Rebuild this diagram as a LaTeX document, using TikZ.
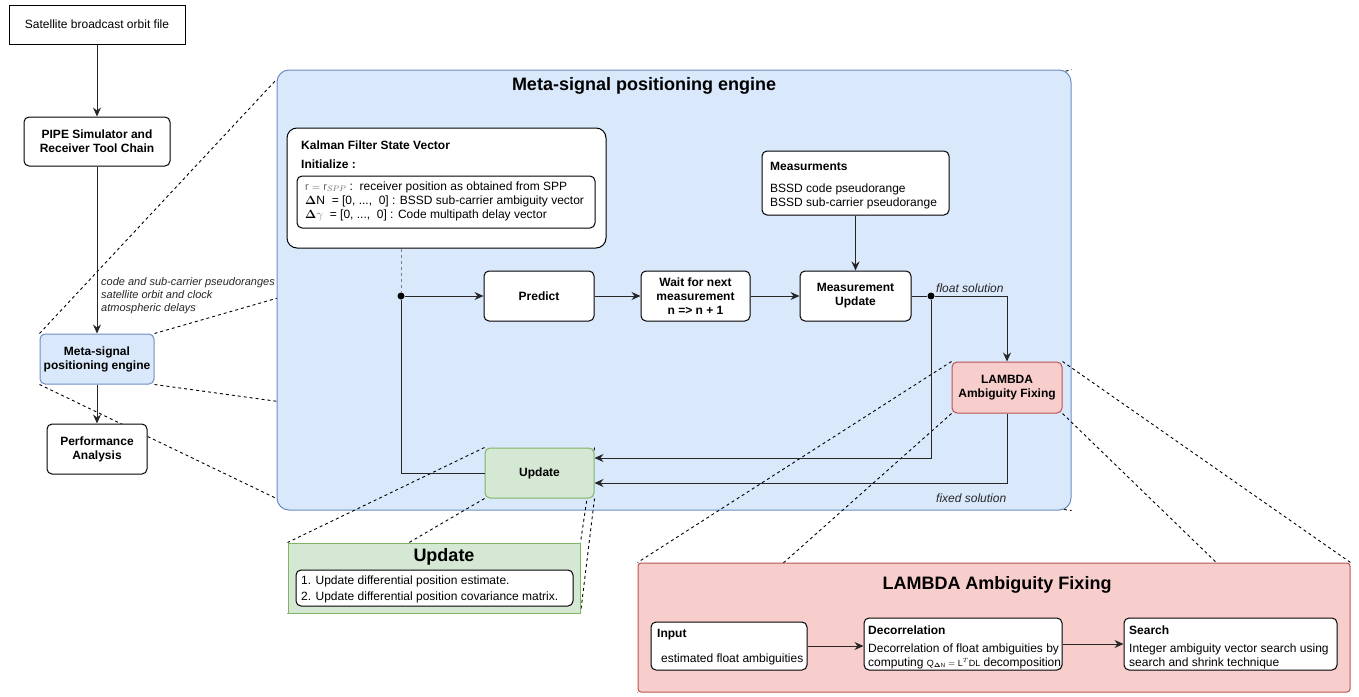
\documentclass[tikz,border=0pt]{standalone}
\usepackage{fontspec}
\setmainfont{Liberation Sans}
\usepackage{amsmath}
\usepackage{amssymb}
\usepackage{bm}
\usepackage{tikz}
\usetikzlibrary{positioning,arrows.meta}
\usepackage{xcolor}
\definecolor{engineFill}{HTML}{DAE8FC}
\definecolor{engineLine}{HTML}{6C8EBF}
\definecolor{updateFill}{HTML}{D5E8D4}
\definecolor{updateLine}{HTML}{82B366}
\definecolor{lambdaFill}{HTML}{F8CECC}
\definecolor{lambdaLine}{HTML}{B85450}
\pgfdeclarelayer{hidden}
\pgfdeclarelayer{back}
\pgfdeclarelayer{zoom}
\pgfsetlayers{hidden,back,zoom,main}

\begin{document}
\begin{tikzpicture}[x=1pt, y=-1pt,
	txt/.style={font=\fontsize{12}{14}\selectfont, inner sep=0pt},
	bold/.style={font=\bfseries\fontsize{12}{14}\selectfont, inner sep=0pt},
	title/.style={font=\bfseries\fontsize{18}{20}\selectfont, inner sep=0pt},
	note/.style={font=\itshape\fontsize{11}{13}\selectfont, text=black!85, inner sep=0pt},
	plainbox/.style={draw, line width=1pt, fill=white, font=\fontsize{12}{14}\selectfont},
	box/.style={draw, line width=1pt, rounded corners=5pt, fill=white, align=center, font=\bfseries\fontsize{12}{14}\selectfont},
	link/.style={line width=1pt, draw=black!85},
	arr/.style={link, -{Stealth[length=9pt, width=8pt, inset=3pt]}},
	zoomline/.style={line width=0.9pt, dash pattern=on 3pt off 3pt},
	dot/.style={circle, fill=black, inner sep=0pt, minimum size=7pt}]
\useasboundingbox (0,0) rectangle (1359,696);

\node[plainbox, minimum width=176pt, minimum height=39pt] (orbit) at (97,24.5) {Satellite broadcast orbit file};
\node[box, minimum width=146pt, minimum height=49pt] (pipe) at (97,141.5) {PIPE Simulator and\\Receiver Tool Chain};
\node[box, draw=engineLine, fill=engineFill, minimum width=114pt, minimum height=50pt] (metasmall) at (97,359) {Meta-signal\\positioning engine};
\node[box, minimum width=100pt, minimum height=50pt] (perf) at (97,449) {Performance\\Analysis};
\draw[arr] (orbit) -- (pipe);
\draw[arr] (pipe) -- (metasmall);
\draw[arr] (metasmall) -- (perf);
\node[note, anchor=base west] (input1) at (101,285) {code and sub-carrier pseudoranges};
\node[note, anchor=base west] (input2) at (101,298) {satellite orbit and clock};
\node[note, anchor=base west] (input3) at (101,311) {atmospheric delays};

\begin{pgfonlayer}{back}
	\node[draw=engineLine, fill=engineFill, line width=1pt, rounded corners=12pt, minimum width=794pt, minimum height=440pt] (engine) at (674,290) {};
\end{pgfonlayer}
\begin{pgfonlayer}{hidden}
	\draw[zoomline] (metasmall.north west) -- ([yshift=-10pt]engine.north west);
	\draw[zoomline] (metasmall.north east) -- (engine.north east);
	\draw[zoomline] (metasmall.south west) -- ([yshift=12pt]engine.south west);
	\draw[zoomline] (metasmall.south east) -- (engine.south east);
\end{pgfonlayer}
\node[title] (enginetitle) at (644,86) {Meta-signal positioning engine};

\node[box, rounded corners=10pt, minimum width=319pt, minimum height=120pt] (kalman) at (446.5,188) {};
\node[bold, anchor=base west] (kalmantitle) at (301,149) {Kalman Filter State Vector};
\node[bold, anchor=base west] (kalmaninit) at (301,168) {Initialize :};
\node[box, minimum width=298pt, minimum height=52pt] (kinit) at (446,202) {};
\node[txt, anchor=base west] (kline1) at (305,190) {{\fontsize{11}{12}\selectfont\color{black!60}$\mathrm{r}=\mathrm{r}_{SPP}$}\ :\ \ receiver position as obtained from SPP};
\node[txt, anchor=base west] (kline2) at (305,204) {$\bm{\Delta}\mathrm{N}$\ \ = [0, ...,\ \ 0] : BSSD sub-carrier ambiguity vector};
\node[txt, anchor=base west] (kline3) at (305,218) {$\bm{\Delta}{\color{black!55}\gamma}$\ \ = [0, ...,\ \ 0] : Code multipath delay vector};

\node[box, minimum width=187pt, minimum height=64pt] (meas) at (855.5,183) {};
\node[bold, anchor=base west] (meastitle) at (770,170) {Measurments};
\node[txt, anchor=base west] (measline1) at (770,192) {BSSD code pseudorange};
\node[txt, anchor=base west] (measline2) at (770,206) {BSSD sub-carrier pseudorange};

\node[dot] (jdot) at (401,296) {};
\node[box, minimum width=110pt, minimum height=50pt] (predict) at (539,296) {Predict};
\node[box, minimum width=109pt, minimum height=50pt] (wait) at (695.5,296) {Wait for next\\measurement\\n => n + 1};
\node[box, minimum width=111pt, minimum height=50pt] (measupd) at (855.5,296) {Measurement\\Update};
\node[dot] (fdot) at (931,296) {};
\node[box, draw=lambdaLine, fill=lambdaFill, minimum width=110pt, minimum height=51pt] (lambda) at (1007,387.5) {LAMBDA\\Ambiguity Fixing};
\node[box, draw=updateLine, fill=updateFill, minimum width=109pt, minimum height=50pt] (update) at (539.5,473) {Update};

\draw[link, dashed, draw=black!50] (kalman.south -| jdot) -- (jdot);
\draw[arr] (jdot) -- (predict);
\draw[arr] (predict) -- (wait);
\draw[arr] (wait) -- (measupd);
\draw[arr] (meas) -- (measupd);
\draw[link] (measupd) -- (fdot);
\draw[arr] (fdot) -| (lambda);
\draw[arr] (fdot) |- ([yshift=15pt]update.east);
\draw[arr] (lambda) |- ([yshift=-10pt]update.east);
\draw[link] (update) -| (jdot);
\node[note, font=\itshape\fontsize{12}{14}\selectfont, anchor=base west] (floatlbl) at (936,292) {float solution};
\node[note, font=\itshape\fontsize{12}{14}\selectfont, anchor=base west] (fixedlbl) at (936,502) {fixed solution};

\node[draw=updateLine, fill=updateFill, line width=1pt, minimum width=292pt, minimum height=70pt] (updatedetail) at (434,578) {};
\node[title] (updatetitle) at (444,557) {Update};
\node[box, minimum width=277pt, minimum height=36pt] (updatesteps) at (434.5,588) {};
\node[txt, anchor=base west] (step1) at (301,584) {1. Update differential position estimate.};
\node[txt, anchor=base west] (step2) at (301,600) {2. Update differential position covariance matrix.};

\node[draw=lambdaLine, fill=lambdaFill, line width=1pt, rounded corners=3pt, minimum width=712pt, minimum height=129pt] (lambdadetail) at (994,627.5) {};
\node[title] (lambdatitle) at (997,585) {LAMBDA Ambiguity Fixing};
\node[box, minimum width=156pt, minimum height=48pt] (input) at (729,646) {};
\node[bold, anchor=base west] (inputtitle) at (657,637) {Input};
\node[txt, anchor=base west] (inputline) at (661,662) {estimated float ambiguities};
\node[box, minimum width=198pt, minimum height=52pt] (decor) at (963,644) {};
\node[bold, anchor=base west] (decortitle) at (868,634) {Decorrelation};
\node[txt, anchor=base west] (decorline1) at (868,652) {Decorrelation of float ambiguities by};
\node[txt, anchor=base west] (decorline2) at (868,666) {computing {\fontsize{9}{10}\selectfont$\mathrm{Q}_{\bm{\Delta}\mathrm{N}}=\mathrm{L}^{T}\mathrm{DL}$} decomposition};
\node[box, minimum width=213pt, minimum height=52pt] (search) at (1230.5,644) {};
\node[bold, anchor=base west] (searchtitle) at (1129,634) {Search};
\node[txt, anchor=base west] (searchline1) at (1129,652) {Integer ambiguity vector search using};
\node[txt, anchor=base west] (searchline2) at (1129,666) {search and shrink technique};
\draw[arr] (input.east) -- (input.east -| decor.west);
\draw[arr] (decor) -- (search);

\begin{pgfonlayer}{zoom}
	\draw[zoomline] (update.north west) -- (updatedetail.north west);
	\draw[zoomline] (update.south west) -- (updatedetail.south west);
	\draw[zoomline] (update.north east) -- (updatedetail.north east);
	\draw[zoomline] (update.south east) -- (updatedetail.south east);
	\draw[zoomline] (lambda.north west) -- (lambdadetail.north west);
	\draw[zoomline] (lambda.south west) -- (lambdadetail.south west);
	\draw[zoomline] (lambda.north east) -- (lambdadetail.north east);
	\draw[zoomline] (lambda.south east) -- (lambdadetail.south east);
\end{pgfonlayer}
\end{tikzpicture}
\end{document}
